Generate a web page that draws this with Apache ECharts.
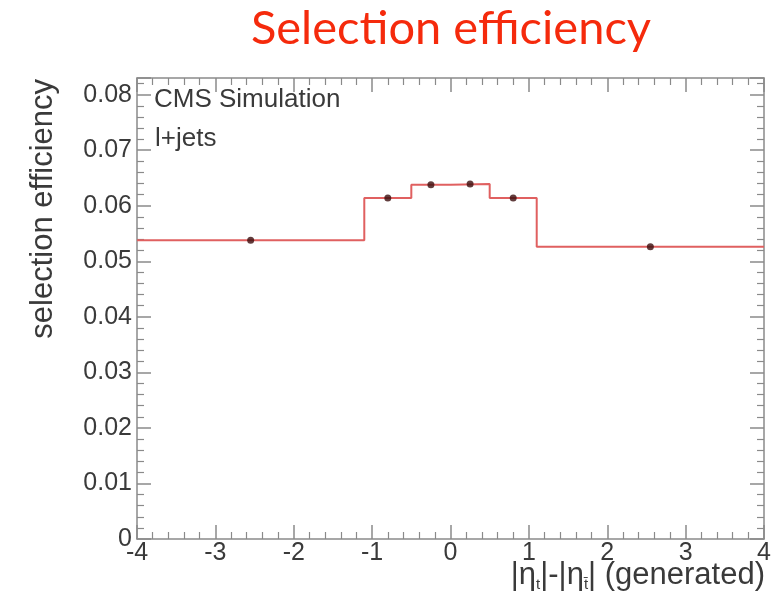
<!DOCTYPE html>
<html>
<head>
<meta charset="utf-8">
<script src="https://cdn.jsdelivr.net/npm/echarts@6/dist/echarts.min.js"></script>
<style>html,body{margin:0;padding:0;background:#fff}#c{width:779px;height:607px}</style>
</head>
<body>
<div id="c"></div>
<script>
// Bin edges in |eta_t|-|eta_tbar| and the selection efficiency per bin
var binEdges = [-4, -1.1, -0.5, 0, 0.5, 1.1, 4];
var efficiency = [0.0538, 0.0614, 0.0638, 0.0639, 0.0614, 0.0526];
var xTicks = [-4, -3, -2, -1, 0, 1, 2, 3, 4];
var yTicks = [0, 0.01, 0.02, 0.03, 0.04, 0.05, 0.06, 0.07, 0.08];

// Step outline of the histogram
var stepData = [];
for (var i = 0; i < efficiency.length; i++) stepData.push([binEdges[i], efficiency[i]]);
stepData.push([binEdges[binEdges.length - 1], efficiency[efficiency.length - 1]]);

// Markers at bin centres
var pointData = efficiency.map(function (v, i) {
  return [(binEdges[i] + binEdges[i + 1]) / 2, v];
});

var axisGrey = '#8a8a8a';
var textGrey = '#3a3a3a';
var sans = '"Liberation Sans", Arial, sans-serif';
var tickFont = { fontFamily: sans, fontSize: 25, color: textGrey };

function xAx(pos, labels) {
  return {
    type: 'value', position: pos, min: xTicks[0], max: xTicks[xTicks.length - 1], interval: 1,
    axisLine: { show: true, onZero: false, lineStyle: { color: axisGrey, width: 1.5 } },
    axisTick: { show: true, inside: true, length: 14, lineStyle: { color: axisGrey, width: 1.5 } },
    minorTick: { show: true, splitNumber: 5, length: 7, lineStyle: { color: axisGrey, width: 1.2 } },
    splitLine: { show: false },
    axisLabel: labels ? Object.assign({ show: true, margin: 2, formatter: function (v) { return String(v); } }, tickFont) : { show: false }
  };
}
function yAx(pos, labels) {
  return {
    type: 'value', position: pos, min: 0, max: 0.083, interval: 0.01,
    axisLine: { show: true, onZero: false, lineStyle: { color: axisGrey, width: 1.5 } },
    axisTick: { show: true, inside: true, length: 14, lineStyle: { color: axisGrey, width: 1.5 } },
    minorTick: { show: true, splitNumber: 5, length: 7, lineStyle: { color: axisGrey, width: 1.2 } },
    splitLine: { show: false },
    axisLabel: labels ? Object.assign({
      show: true, margin: 5, showMaxLabel: false,
      formatter: function (v) { return yTicks.indexOf(+v.toFixed(2)) >= 0 ? (v === 0 ? '0' : v.toFixed(2)) : ''; }
    }, tickFont) : { show: false }
  };
}

var chart = echarts.init(document.getElementById('c'));
chart.setOption({
  animation: false,
  backgroundColor: '#fff',
  grid: { left: 137, right: 15, top: 78, bottom: 68, containLabel: false },
  xAxis: [xAx('bottom', true), xAx('top', false)],
  yAxis: [yAx('left', true), yAx('right', false)],
  series: [
    {
      type: 'line', step: 'end', data: stepData, xAxisIndex: 0, yAxisIndex: 0,
      symbol: 'none', lineStyle: { color: '#e06060', width: 2 }, z: 3
    },
    {
      type: 'scatter', data: pointData, xAxisIndex: 0, yAxisIndex: 0,
      symbolSize: 7, itemStyle: { color: '#3a0c0c' }, z: 4
    }
  ],
  graphic: [
    {
      type: 'text', x: 451, y: 52,
      style: { text: 'Selection efficiency', textAlign: 'center', textVerticalAlign: 'bottom',
        fill: '#f52a0c', font: '47px Lato, "Open Sans", sans-serif' }
    },
    {
      type: 'text', x: 154, y: 113,
      style: { text: 'CMS Simulation', textVerticalAlign: 'bottom', fill: textGrey, font: '26px ' + sans }
    },
    {
      type: 'text', x: 155, y: 152,
      style: { text: 'l+jets', textVerticalAlign: 'bottom', fill: textGrey, font: '26px ' + sans }
    },
    {
      type: 'text', x: 28, y: 79, rotation: Math.PI / 2,
      style: { text: 'selection efficiency', textAlign: 'right', textVerticalAlign: 'top',
        fill: textGrey, font: '31px ' + sans }
    },
    {
      type: 'text', x: 765, y: 592,
      style: {
        text: '|{e|η}{s|t}|-|{e|η}{s|t̄}| (generated)', textAlign: 'right', textVerticalAlign: 'bottom',
        fill: textGrey, font: '31px ' + sans,
        rich: {
          e: { fontSize: 31, fontFamily: 'Liberation Sans', fill: textGrey },
          s: { fontSize: 15, fontFamily: 'Liberation Sans', fill: textGrey, padding: [18, 0, 0, 0] }
        }
      }
    }
  ]
});
</script>
</body>
</html>
